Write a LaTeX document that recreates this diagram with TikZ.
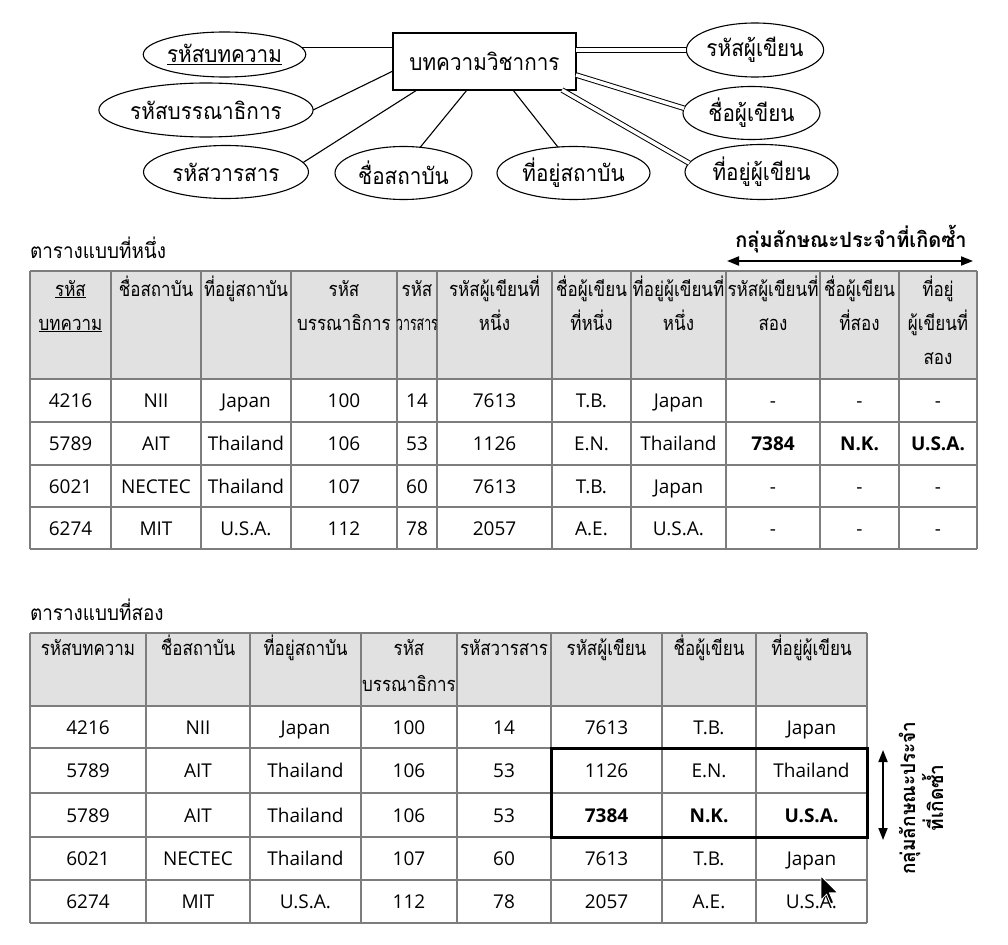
\documentclass[tikz,border=0pt]{standalone}
\usepackage{fontspec}
\setmainfont{Open Sans}
\newfontfamily\thaiT[Script=Thai,FakeStretch=0.85]{Loma}
\newfontfamily\thaiN[Script=Thai,FakeStretch=0.62]{Loma}
\newfontfamily\thaiE[Script=Thai,FakeStretch=0.9]{Loma}
\newfontfamily\thaiG[Script=Thai,FakeStretch=0.95]{Loma}
\usetikzlibrary{shapes.geometric,arrows.meta,calc}
\definecolor{gridc}{RGB}{125,125,125}
\definecolor{hdrc}{RGB}{225,225,225}
\newcommand\hstrut{\rule{0pt}{25pt}}
\begin{document}
\begin{tikzpicture}[x=1pt,y=-1pt,
  every node/.style={inner sep=0pt, outer sep=0pt},
  erfont/.style={font=\thaiE\fontsize{23}{26}\selectfont},
  entity/.style={draw, line width=1.1pt, erfont},
  attr/.style={draw, ellipse, line width=1.1pt, erfont},
  conn/.style={line width=1.1pt},
  dbl/.style={double, double distance=3.5pt, line width=1pt},
  gridline/.style={draw=gridc, line width=1.2pt},
  cell/.style={anchor=base, font=\fontsize{19}{22}\selectfont},
  hcell/.style={anchor=north, align=center, font=\thaiT\fontsize{20}{34}\selectfont},
  hcellb/.style={anchor=north, align=center, font=\thaiT\fontsize{20}{36}\selectfont},
  title/.style={anchor=base west, font=\thaiE\fontsize{21}{24}\selectfont},
  grp/.style={font=\thaiG\bfseries\fontsize{21}{27}\selectfont, align=center},
  arr/.style={line width=1.8pt, {Triangle[length=12pt,width=9pt]}-{Triangle[length=12pt,width=9pt]}},
]
\useasboundingbox (0,0) rectangle (1008,944);

% ---------------- ER diagram ----------------
\node[entity, minimum width=183, minimum height=57] (ent) at (484.5,61.5) {บทความวิชาการ};
\node[attr, minimum width=159, minimum height=45] (e1) at (224.5,54.5) {\underline{รหัสบทความ}};
\node[attr, minimum width=204, minimum height=54] (e2) at (206,110) {รหัสบรรณาธิการ};
\node[attr, minimum width=165, minimum height=53] (e3) at (226,172) {รหัสวารสาร};
\node[attr, minimum width=137, minimum height=53] (e4) at (403.5,173) {ชื่อสถาบัน};
\node[attr, minimum width=153, minimum height=53] (e5) at (573.5,173) {ที่อยู่สถาบัน};
\node[attr, minimum width=136, minimum height=54] (e6) at (755,50) {รหัสผู้เขียน};
\node[attr, minimum width=137, minimum height=53] (e7) at (751.5,113) {ชื่อผู้เขียน};
\node[attr, minimum width=153, minimum height=55] (e8) at (761.5,172) {ที่อยู่ผู้เขียน};

\draw[conn] (e1.5) -- (e1.5 -| ent.west);
\draw[conn] (e2.east) -- ($(ent.west)+(0,9.5)$);
\draw[conn] (e3.7) -- ($(ent.south west)+(24,0)$);
\draw[conn] (e4.57) -- ($(ent.south west)+(74,0)$);
\draw[conn] (e5.121) -- ($(ent.south west)+(120,0)$);
\draw[dbl] (e6.west -| ent.east) -- (e6.west);
\draw[dbl] ($(ent.east)+(0,13.5)$) -- (e7.176);
\draw[dbl] ($(ent.south east)+(-14,0)$) -- (e8.173);

% ---------------- Table 1 ----------------
\node[title] (t1title) at (30,258) {ตารางแบบที่หนึ่ง};
\node[grp, anchor=base] (grp1) at (851,247) {กลุ่มลักษณะประจำที่เกิดซ้ำ};
\coordinate (h1) at (727,261);
\coordinate (h2) at (973,261);
\draw[arr] (h1) -- (h2);

\def\TAl{30,111,201,291,397,437,552,631,726,820,899,977}
\def\TAa{{30,111,201,291,397,437,552,631,726,820,899,977}}
\fill[hdrc] (30,271) rectangle (977,379);
\foreach \x in \TAl \draw[gridline] (\x,271) -- (\x,549);
\foreach \y in {271,379,422,465,507,549} \draw[gridline] (30,\y) -- (977,\y);

\foreach [count=\j] \h in {
  {\hstrut\underline{รหัส}\\\underline{บทความ}},
  {\hstrut ชื่อสถาบัน},
  {\hstrut ที่อยู่สถาบัน},
  {\hstrut รหัส\\บรรณาธิการ},
  {\hstrut รหัส\\{\thaiN วารสาร}},
  {\hstrut รหัสผู้เขียนที่\\หนึ่ง},
  {\hstrut ชื่อผู้เขียน\\ที่หนึ่ง},
  {\hstrut ที่อยู่ผู้เขียนที่\\หนึ่ง},
  {\hstrut รหัสผู้เขียนที่\\สอง},
  {\hstrut ชื่อผู้เขียน\\ที่สอง},
  {\hstrut ที่อยู่\\ผู้เขียนที่\\สอง}} {
  \pgfmathsetmacro\cx{0.5*(\TAa[\j-1]+\TAa[\j])}
  \node[hcell] (ah-\j) at (\cx,271) {\h};
}

\foreach [count=\i] \row/\cy in {
  {4216,NII,Japan,100,14,7613,T.B.,Japan,-,-,-}/400.5,
  {5789,AIT,Thailand,106,53,1126,E.N.,Thailand,\textbf{7384},\textbf{N.K.},\textbf{U.S.A.}}/443.5,
  {6021,NECTEC,Thailand,107,60,7613,T.B.,Japan,-,-,-}/486,
  {6274,MIT,U.S.A.,112,78,2057,A.E.,U.S.A.,-,-,-}/528} {
  \foreach [count=\j] \v in \row {
    \pgfmathsetmacro\cx{0.5*(\TAa[\j-1]+\TAa[\j])}
    \node[cell] (a-\i-\j) at (\cx,\cy+7) {\v};
  }
}

% ---------------- Table 2 ----------------
\node[title] (t2title) at (30,620) {ตารางแบบที่สอง};

\def\TBl{30,146,250,361,457,551,662,756,867}
\def\TBa{{30,146,250,361,457,551,662,756,867}}
\fill[hdrc] (30,633) rectangle (867,706);
\foreach \x in \TBl \draw[gridline] (\x,633) -- (\x,923);
\foreach \y in {633,706,748,793,837,880,923} \draw[gridline] (30,\y) -- (867,\y);

\foreach [count=\j] \h in {
  {\hstrut รหัสบทความ},
  {\hstrut ชื่อสถาบัน},
  {\hstrut ที่อยู่สถาบัน},
  {\hstrut รหัส\\บรรณาธิการ},
  {\hstrut รหัสวารสาร},
  {\hstrut รหัสผู้เขียน},
  {\hstrut ชื่อผู้เขียน},
  {\hstrut ที่อยู่ผู้เขียน}} {
  \pgfmathsetmacro\cx{0.5*(\TBa[\j-1]+\TBa[\j])}
  \node[hcellb] (bh-\j) at (\cx,630) {\h};
}

\foreach [count=\i] \row/\cy in {
  {4216,NII,Japan,100,14,7613,T.B.,Japan}/727,
  {5789,AIT,Thailand,106,53,1126,E.N.,Thailand}/770.5,
  {5789,AIT,Thailand,106,53,\textbf{7384},\textbf{N.K.},\textbf{U.S.A.}}/815,
  {6021,NECTEC,Thailand,107,60,7613,T.B.,Japan}/858.5,
  {6274,MIT,U.S.A.,112,78,2057,A.E.,U.S.A.}/901.5} {
  \foreach [count=\j] \v in \row {
    \pgfmathsetmacro\cx{0.5*(\TBa[\j-1]+\TBa[\j])}
    \node[cell] (b-\i-\j) at (\cx,\cy+7) {\v};
  }
}

\draw[line width=3pt] (551,748) rectangle (867,837);

\coordinate (v1) at (883,750);
\coordinate (v2) at (883,840);
\draw[arr] (v1) -- (v2);
\node[grp, rotate=90, font=\thaiG\bfseries\fontsize{20}{28}\selectfont] (grp2) at (921,798) {กลุ่มลักษณะประจำ\\ที่เกิดซ้ำ};

% cursor
\fill[black, draw=white, line width=0.8pt] (821,876) -- ++(0,23.8) -- ++(5.6,-5.6) -- ++(4.2,9.8) -- ++(2.8,-1.4) -- ++(-4.2,-9.8) -- ++(8.4,0) -- cycle;
\end{tikzpicture}
\end{document}
